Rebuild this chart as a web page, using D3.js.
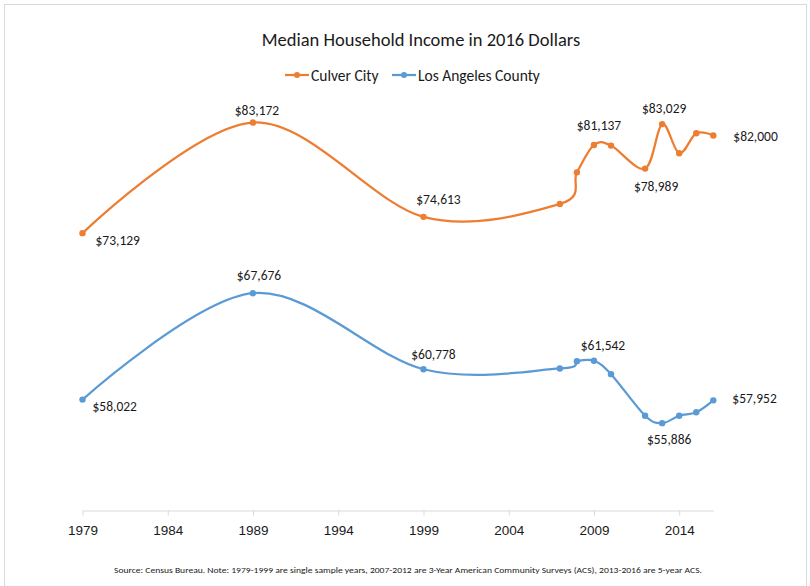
<!DOCTYPE html>
<html>
<head>
<meta charset="utf-8">
<script src="https://cdn.jsdelivr.net/npm/d3@7"></script>
<style>
  body { margin: 0; background: #fff; }
  svg { display: block; font-family: Carlito, Calibri, Lato, sans-serif; }
</style>
</head>
<body>
<svg width="810" height="586"></svg>
<script>
const years = [1979, 1989, 1999, 2007, 2008, 2009, 2010, 2012, 2013, 2014, 2015, 2016];
const culverCity = [73129, 83172, 74613, 75780, 78650, 81137, 81080, 78989, 83029, 80380, 82200, 82000];
const laCounty = [58022, 67676, 60778, 60850, 61500, 61542, 60330, 56560, 55886, 56560, 56870, 57952];
const xTicks = [1979, 1984, 1989, 1994, 1999, 2004, 2009, 2014];
const seriesNames = ['Culver City', 'Los Angeles County'];

const title = 'Median Household Income in 2016 Dollars';
const source = 'Source: Census Bureau. Note:  1979-1999 are single sample years, 2007-2012 are 3-Year American Community Surveys (ACS),  2013-2016 are 5-year ACS.';

// which points carry a value label, and where it sits relative to the point
const culverLabels = [
  { i: 0, dx: 13, dy: 12, anchor: 'start' },
  { i: 1, dx: 4, dy: -8, anchor: 'middle' },
  { i: 2, dx: 15, dy: -13, anchor: 'middle' },
  { i: 5, dx: 5, dy: -15, anchor: 'middle' },
  { i: 7, dx: 11, dy: 22, anchor: 'middle' },
  { i: 8, dx: 2, dy: -11, anchor: 'middle' },
  { i: 11, dx: 20, dy: 6, anchor: 'start' },
];
const laLabels = [
  { i: 0, dx: 10, dy: 11, anchor: 'start' },
  { i: 1, dx: 6, dy: -13, anchor: 'middle' },
  { i: 2, dx: 10, dy: -10, anchor: 'middle' },
  { i: 5, dx: 9, dy: -11, anchor: 'middle' },
  { i: 8, dx: 7, dy: 21, anchor: 'middle' },
  { i: 11, dx: 19, dy: 3, anchor: 'start' },
];

const colors = ['#ED7D31', '#5B9BD5'];

const svg = d3.select('svg');

// chart area border
svg.append('rect')
  .attr('x', 4.5).attr('y', 4.5)
  .attr('width', 802).attr('height', 600)
  .attr('fill', 'none')
  .attr('stroke', '#d9d9d9');

const x = d3.scaleLinear().domain([1979, 2016]).range([82.5, 713.3]);
const y = d3.scaleLinear().domain([48000, 85000]).range([510, 102.4]);

// x axis
const axis = svg.append('g')
  .attr('transform', 'translate(0,510.5)')
  .call(d3.axisBottom(x)
    .tickValues(xTicks)
    .tickFormat(d3.format('d'))
    .tickSize(5)
    .tickSizeOuter(0)
    .tickPadding(10));
axis.select('.domain').attr('stroke', '#d9d9d9');
axis.selectAll('.tick line').attr('stroke', '#d9d9d9');
axis.selectAll('.tick text')
  .attr('fill', '#1a1a1a')
  .style('font-size', '13.5px');

const fmt = d3.format('$,');
const line = d3.line()
  .x((d) => x(d.year))
  .y((d) => y(d.value))
  .curve(d3.curveCardinal.tension(0));

const series = [
  { values: culverCity, labels: culverLabels },
  { values: laCounty, labels: laLabels },
];

series.forEach((s, k) => {
  const pts = years.map((yr, i) => ({ year: yr, value: s.values[i] }));
  const g = svg.append('g');

  g.append('path')
    .datum(pts)
    .attr('d', line)
    .attr('fill', 'none')
    .attr('stroke', colors[k])
    .attr('stroke-width', 2.25);

  g.selectAll('circle')
    .data(pts)
    .enter()
    .append('circle')
    .attr('cx', (d) => x(d.year))
    .attr('cy', (d) => y(d.value))
    .attr('r', 3.2)
    .attr('fill', colors[k]);

  g.selectAll('text')
    .data(s.labels)
    .enter()
    .append('text')
    .attr('x', (d) => x(pts[d.i].year) + d.dx)
    .attr('y', (d) => y(pts[d.i].value) + d.dy)
    .attr('text-anchor', (d) => d.anchor)
    .attr('fill', '#1a1a1a')
    .style('font-size', '13.5px')
    .text((d) => fmt(pts[d.i].value));
});

// title
svg.append('text')
  .attr('x', 421)
  .attr('y', 46)
  .attr('text-anchor', 'middle')
  .attr('fill', '#1a1a1a')
  .style('font-size', '18.5px')
  .text(title);

// legend
const legend = svg.append('g');
const legendX = [285, 392];
seriesNames.forEach((name, k) => {
  const lg = legend.append('g').attr('transform', `translate(${legendX[k]},75)`);
  lg.append('line')
    .attr('x1', 0).attr('x2', 24)
    .attr('stroke', colors[k])
    .attr('stroke-width', 2.25);
  lg.append('circle')
    .attr('cx', 12).attr('r', 3)
    .attr('fill', colors[k]);
  lg.append('text')
    .attr('x', 26)
    .attr('y', 5.5)
    .attr('fill', '#1a1a1a')
    .style('font-size', '15.5px')
    .text(name);
});

// source note
svg.append('text')
  .attr('x', 114)
  .attr('y', 573)
  .attr('textLength', 588)
  .attr('lengthAdjust', 'spacingAndGlyphs')
  .attr('fill', '#1a1a1a')
  .style('font-size', '8.5px')
  .text(source);
</script>
</body>
</html>
